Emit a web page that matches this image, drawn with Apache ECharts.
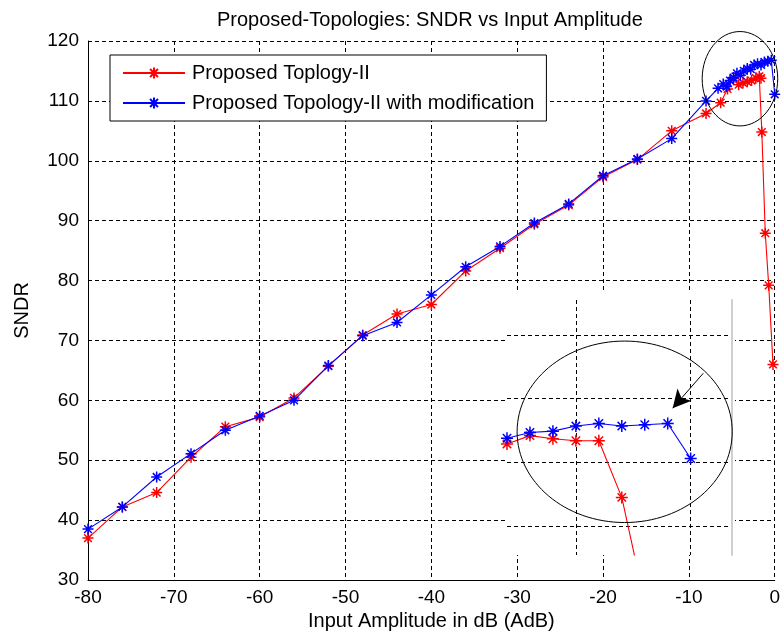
<!DOCTYPE html>
<html><head><meta charset="utf-8">
<script src="https://cdn.jsdelivr.net/npm/echarts@6/dist/echarts.min.js"></script>
<style>html,body{margin:0;padding:0;background:#fff}#c{width:783px;height:641px}</style>
</head><body><div id="c"></div>
<script>
// ---- tick labels ----
const xTicks = [-80, -70, -60, -50, -40, -30, -20, -10, 0];
const yTicks = [30, 40, 50, 60, 70, 80, 90, 100, 110, 120];

// ---- main series ----
const redX = [-80, -76, -72, -68, -64, -60, -56, -52, -48, -44, -40, -36, -32, -28, -24, -20, -16, -12, -8,
  -6.3, -5.5, -4.8, -4.2, -3.7, -3.2, -2.7, -2.2, -1.8, -1.6, -1.5, -1.1, -0.7, -0.2];
const redY = [37.0, 42.2, 44.6, 50.5, 55.6, 57.2, 60.4, 65.7, 70.9, 74.4, 76.0, 81.6, 85.4, 89.4, 92.6, 97.3, 100.2, 105.0, 107.9,
  109.7, 112.0, 113.8, 112.7, 113.0, 113.2, 113.4, 113.8, 114.1, 113.8, 104.8, 87.9, 79.2, 66.0];

const blueX = [-80, -76, -72, -68, -64, -60, -56, -52, -48, -44, -40, -36, -32, -28, -24, -20, -16, -12, -8,
  -6.6, -6.0, -5.6, -5.2, -4.8, -4.4, -4.0, -3.6, -3.2, -2.8, -2.4, -2.0, -1.6, -1.2, -0.8, -0.4, 0];
const blueY = [38.5, 42.2, 47.2, 51.1, 55.0, 57.4, 60.0, 65.8, 70.8, 73.0, 77.6, 82.3, 85.7, 89.6, 92.8, 97.5, 100.3, 103.7, 110.0,
  112.1, 112.8, 112.4, 113.4, 113.9, 114.6, 114.3, 115.0, 115.4, 115.3, 116.0, 116.2, 116.0, 116.5, 116.6, 116.8, 111.1];

// ---- inset (zoomed view) ----
const insetXRange = [-1.6, 0.36];
const insetYRange = [110.545, 114.55];
const insetRedX = [-1.6, -1.4, -1.2, -1.0, -0.8, -0.6, -0.4];
const insetRedY = [112.29, 112.42, 112.37, 112.34, 112.34, 111.45, 109.8];
const insetBlueX = [-1.6, -1.4, -1.2, -1.0, -0.8, -0.6, -0.4, -0.2, 0];
const insetBlueY = [112.38, 112.47, 112.49, 112.57, 112.61, 112.57, 112.59, 112.61, 112.06];

// ---- annotations (in data units) ----
const mainEllipse = [-4.05, 113.7, 4.4, 7.88];      // cx, cy, rx, ry
const insetEllipse = [-0.575, 112.48, 0.937, 1.425];
const insetArrow = [[0.11, 113.40], [-0.157, 112.85]];

const names = ['Proposed Toplogy-II', 'Proposed Topology-II with modification'];
const FONT = 'Liberation Sans, Arial, sans-serif';
const STAR = 'path://M5,0L5,10M0,5L10,5M1.5,1.5L8.5,8.5M8.5,1.5L1.5,8.5';
const zip = (xs, ys) => xs.map((x, i) => [x, ys[i]]);
const dash = {color: '#000', width: 1, type: [4, 3]};

const chart = echarts.init(document.getElementById('c'), null, {renderer: 'canvas'});
function mkSeries(name, data, color, xi, size, z) {
  return {
    name: name, type: 'line', data: data, xAxisIndex: xi, yAxisIndex: xi,
    symbol: STAR, symbolSize: size, showAllSymbol: true, z: z,
    lineStyle: {color: color, width: 1.1},
    itemStyle: {color: color, borderColor: color, borderWidth: 1.5},
    emphasis: {disabled: true}, animation: false, clip: true
  };
}
const option = {
  animation: false,
  backgroundColor: '#fff',
  textStyle: {fontFamily: FONT, color: '#000'},
  title: {text: 'Proposed-Topologies: SNDR vs Input Amplitude', left: 212, top: 5,
    textStyle: {fontFamily: FONT, fontSize: 20, fontWeight: 'normal', color: '#000'}},
  legend: {
    data: names, orient: 'vertical', left: 110, top: 55,
    itemWidth: 62, itemHeight: 14, itemGap: 10,
    padding: [8, 12, 8, 12], borderColor: '#000', borderWidth: 1, backgroundColor: '#fff',
    textStyle: {fontFamily: FONT, fontSize: 20, color: '#000', lineHeight: 20, padding: [0, 0, 0, 2]},
    selectedMode: false, z: 10
  },
  grid: [
    {left: 88, right: 4, top: 41, bottom: 61},
    {left: 507, width: 225, top: 300, height: 255}
  ],
  xAxis: [
    {type: 'value', gridIndex: 0, min: xTicks[0], max: xTicks[xTicks.length - 1], interval: xTicks[1] - xTicks[0],
      name: 'Input Amplitude in dB (AdB)', nameLocation: 'middle', nameGap: 30,
      nameTextStyle: {fontFamily: FONT, fontSize: 20, color: '#000'},
      axisLine: {show: true, onZero: false, lineStyle: {color: '#000', width: 1}},
      axisTick: {show: false},
      axisLabel: {fontFamily: FONT, fontSize: 19, color: '#000', margin: 8},
      splitLine: {show: true, lineStyle: dash}},
    {type: 'value', gridIndex: 1, min: insetXRange[0], max: insetXRange[1], splitNumber: 2, z: 5,
      axisLine: {show: false}, axisTick: {show: false}, axisLabel: {show: false},
      splitLine: {show: true, showMinLine: false, showMaxLine: false, lineStyle: dash}}
  ],
  yAxis: [
    {type: 'value', gridIndex: 0, min: yTicks[0], max: yTicks[yTicks.length - 1], interval: yTicks[1] - yTicks[0],
      name: 'SNDR', nameLocation: 'middle', nameGap: 56,
      nameTextStyle: {fontFamily: FONT, fontSize: 20, color: '#000'},
      axisLine: {show: true, onZero: false, lineStyle: {color: '#000', width: 1}},
      axisTick: {show: false},
      axisLabel: {fontFamily: FONT, fontSize: 19, color: '#000', margin: 9},
      splitLine: {show: true, lineStyle: dash}},
    {type: 'value', gridIndex: 1, min: insetYRange[0], max: insetYRange[1], splitNumber: 4, position: 'right', z: 5,
      axisLine: {show: true, onZero: false, lineStyle: {color: '#cfcfcf', width: 2}},
      axisTick: {show: false}, axisLabel: {show: false},
      splitLine: {show: true, showMinLine: false, showMaxLine: false, lineStyle: dash}}
  ],
  series: [
    mkSeries(names[0], zip(redX, redY), '#ff0000', 0, 11, 2),
    mkSeries(names[1], zip(blueX, blueY), '#0000ff', 0, 11, 3),
    mkSeries('insetRed', zip(insetRedX, insetRedY), '#ff0000', 1, 12, 6),
    Object.assign(mkSeries('insetBlue', zip(insetBlueX, insetBlueY), '#0000ff', 1, 12, 7), {
      markLine: {
        silent: true, animation: false, symbol: ['none', 'arrow'], symbolSize: [14, 18],
        label: {show: false}, lineStyle: {color: '#000', width: 1, type: 'solid'},
        itemStyle: {color: '#000'},
        emphasis: {disabled: true},
        data: [[{coord: insetArrow[0]}, {coord: insetArrow[1]}]]
      }
    })
  ]
};
chart.setOption(option);

function ellipseGraphic(e, gi, z) {
  const c = chart.convertToPixel({gridIndex: gi}, [e[0], e[1]]);
  const p = chart.convertToPixel({gridIndex: gi}, [e[0] + e[2], e[1] + e[3]]);
  return {type: 'ellipse', z: z, silent: true,
    shape: {cx: c[0], cy: c[1], rx: Math.abs(p[0] - c[0]), ry: Math.abs(c[1] - p[1])},
    style: {fill: 'none', stroke: '#000', lineWidth: 1}};
}
const a = chart.convertToPixel({gridIndex: 1}, [insetXRange[0], insetYRange[1]]);
const b = chart.convertToPixel({gridIndex: 1}, [insetXRange[1], insetYRange[0]]);
chart.setOption({graphic: [
  {type: 'rect', z: 1, silent: true, shape: {x: a[0] - 2, y: a[1] - 10, width: b[0] - a[0] + 5, height: b[1] - a[1] + 10},
    style: {fill: '#fff'}},
  ellipseGraphic(insetEllipse, 1, 20),
  ellipseGraphic(mainEllipse, 0, 20)
]});
</script></body></html>
